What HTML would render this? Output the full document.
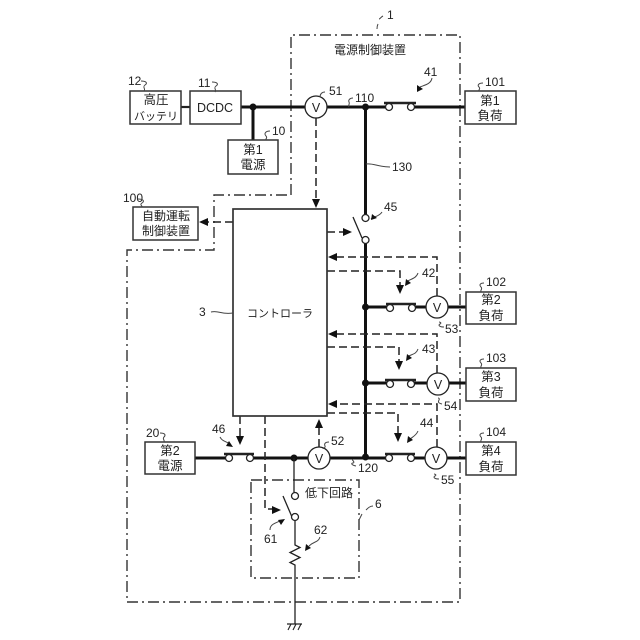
<!DOCTYPE html>
<html><head><meta charset="utf-8"><style>
html,body{margin:0;padding:0;background:#fff}
svg{display:block}
text{font-family:"Liberation Sans","Noto Sans CJK JP",sans-serif;font-size:12.5px;fill:#222;text-anchor:middle}
.r text{font-size:12px;text-anchor:start}
.b{fill:#fff;stroke:#333;stroke-width:1.5}
.t{stroke:#111;stroke-width:3;fill:none}
.m{stroke:#222;stroke-width:1.4;fill:none}
.d{stroke:#222;stroke-width:1.5;fill:none;stroke-dasharray:8 4}
.o{stroke:#333;stroke-width:1.4;fill:none;stroke-dasharray:11 4 2 4}
.s{stroke:#444;stroke-width:1;fill:none}
.c{fill:#fff;stroke:#222;stroke-width:1.3}
.a{fill:#111}
</style></head><body>
<svg width="640" height="640" viewBox="0 0 640 640" xmlns="http://www.w3.org/2000/svg">
<!-- outer dash-dot -->
<path class="o" d="M291 195V35H460V602H127V250H214V195Z"/>
<path class="o" d="M251 480H359V578H251Z"/>
<!-- thick lines -->
<path class="m" d="M181 107H190" style="stroke-width:2.2"/>
<path class="t" d="M241 107H305M253 107V140M327 107H386M414 107H465M365.500 107V215M365.500 243V457M365 307H387M415 307H426M448 307H466M365 383H387M414 383H427M449 383H466M195 458H226M253 458H308M330 458H386M414 458H425M447 458H466"/>
<path class="m" d="M384 103H416M386 304H416M385 380H416M385 454H415M224 454H254" style="stroke-width:2.4"/>
<circle class="a" cx="253" cy="107" r="3.5"/><circle class="a" cx="365.500" cy="107" r="3.5"/><circle class="a" cx="365.500" cy="307" r="3.5"/><circle class="a" cx="365.500" cy="383" r="3.5"/><circle class="a" cx="365.500" cy="457" r="3.5"/><circle class="a" cx="294" cy="458" r="3.5"/>
<!-- dashed signals -->
<path class="d" d="M316 118V201M327 232H345M437 296V257H335M327 271H400V287M437 373V334H335M327 347H399V363M437 447V404H335M327 413H398V435M319 447V426M240 416V438M265 416V509H274M233 222H206"/>
<path class="a" d="M316 208l-4-9h8zM352 232l-9-4v8zM328 257l9-4v8zM400 294l-4-9h8zM328 334l9-4v8zM399 370l-4-9h8zM328 404l9-4v8zM398 442l-4-9h8zM319 419l-4 9h8zM240 445l-4-9h8zM281 510l-9-4v8zM199 222l9-4v8z"/>
<!-- thin circuit -->
<path class="m" d="M294 458V492M353 217L362 238M283 496L292 517M295 521V545l5 2.500-10 5 10 5-10 5 5 2.500V624M287 624H302" style="stroke-width:1.3"/>
<path class="m" d="M291 624l-3 6M296 624l-3 6M301 624l-3 6" style="stroke-width:1.1"/>
<!-- contacts -->
<circle class="c" cx="389" cy="107" r="3.500"/><circle class="c" cx="411" cy="107" r="3.500"/>
<circle class="c" cx="390" cy="308" r="3.500"/><circle class="c" cx="412" cy="308" r="3.500"/>
<circle class="c" cx="390" cy="384" r="3.500"/><circle class="c" cx="411" cy="384" r="3.500"/>
<circle class="c" cx="389" cy="458" r="3.500"/><circle class="c" cx="411" cy="458" r="3.500"/>
<circle class="c" cx="229" cy="458" r="3.500"/><circle class="c" cx="250" cy="458" r="3.500"/>
<circle class="c" cx="365.500" cy="218" r="3.500"/><circle class="c" cx="365.500" cy="240" r="3.500"/>
<circle class="c" cx="295" cy="496" r="3.500"/><circle class="c" cx="295" cy="517" r="3.500"/>
<!-- meters -->
<circle class="c" cx="316" cy="107" r="11"/><text x="316" y="112">V</text>
<circle class="c" cx="437" cy="307" r="11"/><text x="437" y="312">V</text>
<circle class="c" cx="438" cy="384" r="11"/><text x="438" y="389">V</text>
<circle class="c" cx="436" cy="458" r="11"/><text x="436" y="463">V</text>
<circle class="c" cx="319" cy="458" r="11"/><text x="319" y="463">V</text>
<!-- boxes -->
<rect class="b" x="130" y="91" width="51" height="33"/><text x="156" y="104">高圧</text><text x="156" y="120" style="font-size:11px">バッテリ</text>
<rect class="b" x="190" y="91" width="51" height="33"/><text x="215" y="112">DCDC</text>
<rect class="b" x="228" y="140" width="50" height="34"/><text x="253" y="154">第1</text><text x="253" y="169">電源</text>
<rect class="b" x="465" y="91" width="51" height="33"/><text x="490" y="105">第1</text><text x="490" y="120">負荷</text>
<rect class="b" x="466" y="292" width="50" height="32"/><text x="491" y="304">第2</text><text x="491" y="320">負荷</text>
<rect class="b" x="466" y="368" width="50" height="33"/><text x="491" y="381">第3</text><text x="491" y="397">負荷</text>
<rect class="b" x="466" y="442" width="50" height="33"/><text x="491" y="455">第4</text><text x="491" y="471">負荷</text>
<rect class="b" x="145" y="442" width="50" height="32"/><text x="170" y="455">第2</text><text x="170" y="470">電源</text>
<rect class="b" x="133" y="207" width="65" height="33"/><text x="166" y="220" style="font-size:12px">自動運転</text><text x="166" y="235" style="font-size:12px">制御装置</text>
<rect class="b" x="233" y="209" width="94" height="207" style="stroke-width:1.7"/><text x="280" y="317" style="font-size:11px">コントローラ</text>
<text x="370" y="54" style="font-size:12px">電源制御装置</text>
<text x="329" y="497" style="font-size:12px">低下回路</text>
<!-- reference labels -->
<g class="r">
<text x="128" y="85">12</text>
<text x="198" y="87">11</text>
<text x="272" y="135">10</text>
<text x="329" y="95">51</text>
<text x="355" y="102">110</text>
<text x="387" y="19">1</text>
<text x="424" y="76">41</text>
<text x="485" y="86">101</text>
<text x="392" y="171">130</text>
<text x="384" y="211">45</text>
<text x="422" y="277">42</text>
<text x="486" y="286">102</text>
<text x="445" y="333">53</text>
<text x="422" y="353">43</text>
<text x="486" y="362">103</text>
<text x="444" y="410">54</text>
<text x="420" y="427">44</text>
<text x="486" y="436">104</text>
<text x="441" y="484">55</text>
<text x="358" y="472">120</text>
<text x="331" y="445">52</text>
<text x="146" y="437">20</text>
<text x="212" y="433">46</text>
<text x="375" y="508">6</text>
<text x="264" y="543">61</text>
<text x="314" y="534">62</text>
<text x="123" y="202">100</text>
<text x="199" y="316">3</text>
</g>
<!-- squiggles -->
<path class="s" d="M141 81c5 0 7 2 4 4s1 4-1 6M212 82c5 0 7 2 4 4s1 4-1 6M270 131c-5 0-6 3-4 5s-1 3 0 4M325 92c-3 0-5 2-5 5M353 98c-3 0-5 2-4 4s-1 3 0 5M383 16c-2 1-3 3-4 3M378 24c-1 2-1 3-1 5M432 78c-1 6-7 7-12 9M483 83c-4 0-6 2-4 4s-1 3 0 4M366 164c8-1 12 3 24 3M382 212c-3 5-8 4-11 7M418 273c-2 6-8 6-12 9M484 283c-4 0-5 2-3 4s-1 3 0 5M444 327c-5 0-6-2-4-3s0-2-1-2M418 349c-2 6-7 5-11 8M484 359c-4 0-5 2-3 4s-1 3 0 5M442 404c-4-1-4-2-3-4s-1-2-1-2M418 431c-2 5-6 6-9 9M484 433c-4 0-5 2-3 4s-1 3 0 5M439 479c-5 0-6-2-4-3s0-2-1-2M356 466c-5-1-5-3-3-3s0-3-1-3M329 442c-4 0-5 2-4 4s-2 2-2 3M160 433c5 0 6 2 4 4s1 3 0 5M220 437c2 4 5 4 10 7M373 506c-3 0-5 2-7 4M362 514c-1 2-2 4-3 6M270 530c0-5 3-6 10-9M320 537c-2 6-6 4-11 9M138 199c5 0 7 2 4 4s1 3 0 4M211 312c8-2 10 3 22 1"/>
<path class="a" d="M417 92l0-7 6 4zM371 220l1-6 5 4zM405 286l1-7 5 4zM406 361l1-7 5 4zM407 443l1-7 5 4zM233 447l-7-1 3-5zM285 519l-7 1 3 5zM305 551l1-7 5 4z"/>
</svg>
</body></html>
